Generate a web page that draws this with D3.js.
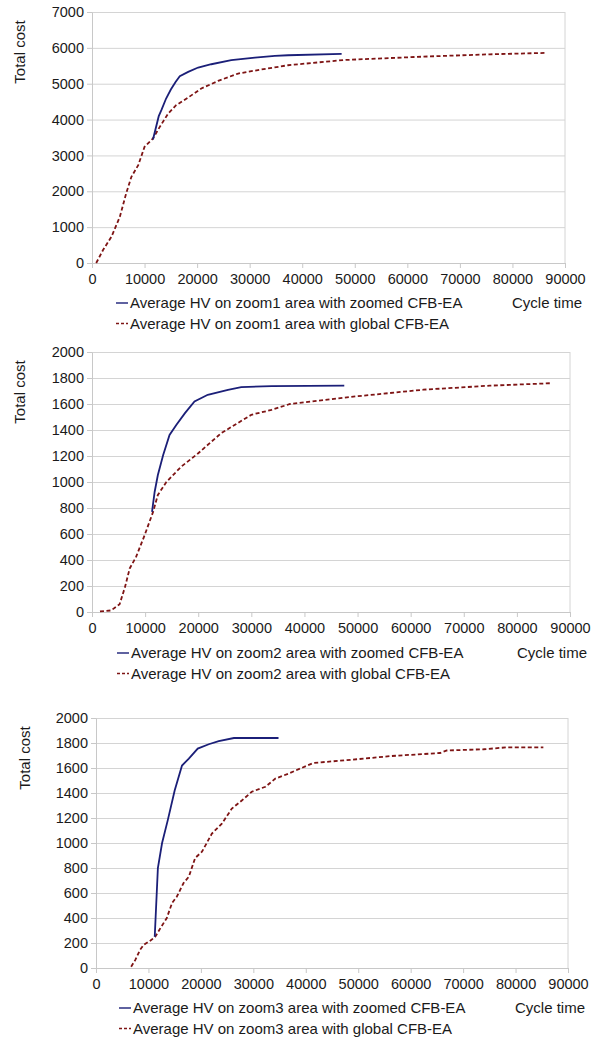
<!DOCTYPE html>
<html>
<head>
<meta charset="utf-8">
<script src="https://cdn.jsdelivr.net/npm/d3@7"></script>
<style>
  body { margin: 0; background: #fff; }
  text { font-family: "Liberation Sans", Arial, sans-serif; fill: #1a1a1a; }
</style>
</head>
<body>
<div id="canvas"></div>
<script>
// [cycle time, total cost]
const zoom1Zoomed = [[11600,3445],[12700,4095],[13200,4262],[14100,4587],[15000,4838],[15900,5050],[16700,5209],[18300,5330],[20200,5451],[22700,5543],[26500,5655],[31000,5730],[34800,5775],[37300,5794],[47500,5830]];
const zoom1Global = [[800,0],[2100,362],[3700,733],[5300,1290],[6500,1941],[7500,2404],[8800,2730],[10000,3240],[11600,3473],[12900,3797],[14500,4170],[16000,4400],[18300,4615],[20800,4866],[24000,5078],[27800,5284],[32200,5396],[37300,5515],[47800,5660],[63000,5755],[75700,5820],[86500,5860]];

const zoom2Zoomed = [[11300,770],[11800,925],[12400,1054],[13400,1208],[14600,1362],[15900,1440],[17500,1530],[19300,1619],[21800,1671],[25600,1709],[28100,1730],[33800,1738],[47500,1741]];
const zoom2Global = [[1500,5],[3600,12],[5200,60],[6200,190],[7100,335],[8300,424],[9900,590],[11500,770],[12400,900],[14000,1000],[16800,1118],[20000,1221],[24300,1375],[30000,1517],[33800,1555],[37300,1600],[49800,1659],[62400,1710],[74900,1741],[86500,1760]];

const zoom3Zoomed = [[11200,250],[11800,800],[12600,1000],[13700,1185],[15000,1420],[16400,1620],[17700,1675],[19400,1755],[21500,1790],[23400,1815],[26300,1840],[34800,1840]];
const zoom3Global = [[6700,10],[7500,65],[8400,145],[9100,185],[10400,220],[11300,250],[12300,320],[13500,400],[14500,520],[15400,570],[16700,680],[17700,730],[18900,880],[20200,930],[22100,1075],[24000,1155],[25900,1275],[27800,1340],[29700,1410],[32300,1450],[34200,1515],[36700,1555],[41400,1640],[49700,1670],[56100,1695],[65600,1720],[66900,1740],[73900,1750],[78300,1765],[85300,1765]];

const xTicks = [0,10000,20000,30000,40000,50000,60000,70000,80000,90000];
const yTicks1 = [0,1000,2000,3000,4000,5000,6000,7000];
const yTicks23 = [0,200,400,600,800,1000,1200,1400,1600,1800,2000];

const charts = [
  { zoomed: zoom1Zoomed, global: zoom1Global, yMax: 7000, yTicks: yTicks1, name: "zoom1",
    left: 92, right: 565, top: 12, bottom: 263, legendX: 130, legendY: 303, labelX: 20 },
  { zoomed: zoom2Zoomed, global: zoom2Global, yMax: 2000, yTicks: yTicks23, name: "zoom2",
    left: 92, right: 570, top: 352, bottom: 612, legendX: 131, legendY: 653, labelX: 20 },
  { zoomed: zoom3Zoomed, global: zoom3Global, yMax: 2000, yTicks: yTicks23, name: "zoom3",
    left: 96, right: 568, top: 718, bottom: 968, legendX: 133, legendY: 1008, labelX: 25 }
];

const width = 599, height = 1037;
const blue = "#1b1f78", red = "#7e1414", grid = "#d4d4d4";

const svg = d3.select("#canvas").append("svg")
  .attr("width", width).attr("height", height);

charts.forEach(c => {
  const iw = c.right - c.left, ih = c.bottom - c.top;
  const g = svg.append("g").attr("transform", `translate(${c.left},${c.top})`);

  const x = d3.scaleLinear().domain([0, 90000]).range([0, iw]);
  const y = d3.scaleLinear().domain([0, c.yMax]).range([ih, 0]);

  // gridlines
  g.append("g")
    .call(d3.axisLeft(y).tickValues(c.yTicks).tickSize(-iw).tickFormat(""))
    .call(a => a.select(".domain").remove())
    .selectAll("line").attr("stroke", grid);

  g.append("line").attr("x1", iw).attr("x2", iw).attr("y1", 0).attr("y2", ih).attr("stroke", grid);

  const yAxis = g.append("g")
    .call(d3.axisLeft(y).tickValues(c.yTicks).tickSize(5).tickPadding(3).tickSizeOuter(0).tickFormat(d3.format("d")));
  const xAxis = g.append("g")
    .attr("transform", `translate(0,${ih})`)
    .call(d3.axisBottom(x).tickValues(xTicks).tickSize(5).tickPadding(6).tickSizeOuter(0).tickFormat(d3.format("d")));
  [yAxis, xAxis].forEach(a => {
    a.select(".domain").attr("stroke", "#c8c8c8");
    a.selectAll(".tick line").attr("stroke", "#c8c8c8");
    a.selectAll("text").style("font-size", "14.5px").attr("fill", "#1a1a1a");
  });

  const line = d3.line().x(d => x(d[0])).y(d => y(d[1]));

  g.append("path").datum(c.global)
    .attr("fill", "none").attr("stroke", red).attr("stroke-width", 1.8)
    .attr("stroke-dasharray", "4,2.5").attr("d", line);

  g.append("path").datum(c.zoomed)
    .attr("fill", "none").attr("stroke", blue).attr("stroke-width", 1.8).attr("d", line);

  // y label
  svg.append("text")
    .attr("transform", `translate(${c.labelX},${c.top + 40}) rotate(-90)`)
    .attr("text-anchor", "middle").attr("dy", "0.35em")
    .style("font-size", "15px").text("Total cost");

  // legend
  const lg = svg.append("g");
  const items = [
    { label: `Average HV on ${c.name} area with zoomed CFB-EA`, color: blue, dash: null },
    { label: `Average HV on ${c.name} area with global CFB-EA`, color: red, dash: "3,2" }
  ];
  items.forEach((it, i) => {
    const yy = c.legendY + i * 20.5;
    lg.append("line")
      .attr("x1", c.legendX - 14).attr("x2", c.legendX - 2)
      .attr("y1", yy).attr("y2", yy)
      .attr("stroke", it.color).attr("stroke-width", 1.4)
      .attr("stroke-dasharray", it.dash);
    lg.append("text").attr("x", c.legendX).attr("y", yy).attr("dy", "0.35em")
      .style("font-size", "15px").text(it.label);
  });

  svg.append("text")
    .attr("x", c.right + 17).attr("y", c.legendY).attr("dy", "0.35em")
    .attr("text-anchor", "end").style("font-size", "15px").text("Cycle time");
});
</script>
</body>
</html>
